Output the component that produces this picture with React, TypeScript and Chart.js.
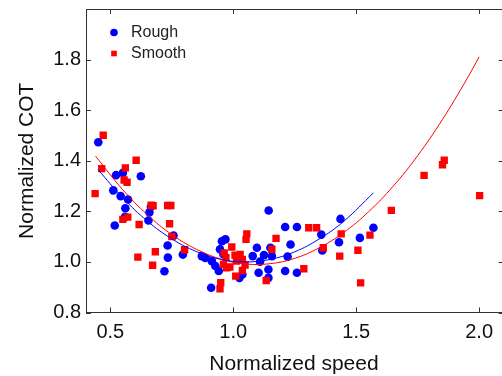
import React, { useEffect, useRef } from 'react';
import { Chart, registerables } from 'chart.js';
Chart.register(...registerables);

const roughX = [0.451, 0.523, 0.551, 0.624, 0.512, 0.542, 0.572, 0.561, 0.665, 0.659, 0.560, 0.518, 0.655, 0.757, 0.733, 0.734, 0.795, 0.720, 0.886, 0.913, 1.144, 1.211, 1.259, 1.233, 1.362, 1.358, 1.096, 1.151, 0.968, 0.954, 0.946, 1.079, 1.125, 1.157, 1.221, 1.109, 1.143, 1.103, 1.211, 1.259, 0.941, 1.025, 1.037, 1.143, 0.910, 0.927, 0.872, 0.960, 1.436, 1.430, 1.515, 1.570];
const roughY = [1.473, 1.343, 1.352, 1.339, 1.283, 1.260, 1.247, 1.212, 1.218, 1.196, 1.178, 1.144, 1.164, 1.104, 1.065, 1.017, 1.029, 0.963, 1.016, 1.003, 1.203, 1.138, 1.138, 1.069, 1.045, 1.108, 1.056, 1.056, 1.089, 1.082, 1.050, 1.023, 1.027, 1.023, 1.021, 1.001, 0.970, 0.957, 0.964, 0.957, 0.964, 0.937, 0.950, 0.937, 0.898, 0.984, 1.023, 1.030, 1.170, 1.078, 1.095, 1.135];

const smoothX = [0.471, 0.465, 0.438, 0.561, 0.605, 0.556, 0.568, 0.666, 0.674, 0.733, 0.746, 0.551, 0.571, 0.617, 0.741, 0.750, 0.802, 0.683, 0.612, 0.672, 1.055, 1.052, 1.174, 0.994, 1.307, 1.339, 1.366, 1.157, 0.963, 1.007, 1.028, 0.970, 1.037, 1.013, 0.986, 1.048, 0.960, 1.037, 0.973, 1.010, 1.134, 1.287, 0.949, 0.946, 1.439, 1.433, 1.507, 1.556, 1.518, 1.643, 1.776, 1.851, 1.858, 2.002];
const smoothY = [1.501, 1.369, 1.270, 1.372, 1.402, 1.324, 1.315, 1.224, 1.222, 1.223, 1.223, 1.168, 1.177, 1.148, 1.151, 1.100, 1.048, 1.040, 1.019, 0.987, 1.111, 1.089, 1.093, 1.059, 1.135, 1.135, 1.056, 1.050, 1.036, 1.027, 1.030, 1.017, 1.010, 1.003, 0.980, 0.988, 0.990, 0.966, 0.977, 0.944, 0.926, 0.973, 0.918, 0.894, 1.111, 1.023, 1.046, 1.106, 0.917, 1.204, 1.342, 1.384, 1.402, 1.262];

const roughFitX = [0.45, 0.55, 0.65, 0.75, 0.85, 0.95, 1.05, 1.15, 1.25, 1.35, 1.45, 1.57];
const roughFitY = [1.365, 1.254, 1.162, 1.091, 1.041, 1.010, 1.000, 1.010, 1.040, 1.091, 1.161, 1.273];

const smoothFitX = [0.44, 0.55, 0.65, 0.75, 0.85, 0.95, 1.05, 1.15, 1.25, 1.35, 1.45, 1.55, 1.65, 1.75, 1.85, 1.95, 2.0];
const smoothFitY = [1.418, 1.286, 1.187, 1.108, 1.050, 1.011, 0.992, 0.993, 1.014, 1.056, 1.117, 1.198, 1.299, 1.420, 1.562, 1.723, 1.811];

const xTicks = [0.5, 1.0, 1.5, 2.0];
const yTicks = [0.8, 1.0, 1.2, 1.4, 1.6, 1.8];
const seriesNames = ['Rough', 'Smooth'];
const xFrameMax = 2.1;

const FONT = "'Liberation Sans', Arial, Helvetica, sans-serif";
const AXIS = '#333333';

const zip = (xs: number[], ys: number[]) => xs.map((x, i) => ({ x, y: ys[i] }));

const zeroPad = (s: any) => {
  s.paddingLeft = 0;
  s.paddingRight = 0;
  s.paddingTop = 0;
  s.paddingBottom = 0;
};

const framePlugin = {
  id: 'frame',
  afterDraw(chart: any) {
    const { ctx, chartArea } = chart;
    const { left, top, bottom } = chartArea;
    const xs = chart.scales.x;
    const ys = chart.scales.y;
    const right = xs.getPixelForValue(xFrameMax);
    const L = 5;
    ctx.save();
    ctx.strokeStyle = AXIS;
    ctx.lineWidth = 1;
    ctx.beginPath();
    ctx.moveTo(left, top + 0.5);
    ctx.lineTo(right, top + 0.5);
    ctx.moveTo(right - 0.5, top);
    ctx.lineTo(right - 0.5, bottom);
    xTicks.forEach((v) => {
      const px = Math.round(xs.getPixelForValue(v)) + 0.5;
      ctx.moveTo(px, bottom);
      ctx.lineTo(px, bottom - L);
      ctx.moveTo(px, top);
      ctx.lineTo(px, top + L);
    });
    yTicks.forEach((v) => {
      const py = Math.round(ys.getPixelForValue(v)) + 0.5;
      ctx.moveTo(left, py);
      ctx.lineTo(left + L, py);
      ctx.moveTo(right, py);
      ctx.lineTo(right - L, py);
    });
    ctx.stroke();

    // legend
    const lx = left + 28;
    const ly1 = top + 23.5;
    const ly2 = top + 44.5;
    ctx.fillStyle = '#0000ff';
    ctx.beginPath();
    ctx.arc(lx, ly1, 3.8, 0, Math.PI * 2);
    ctx.fill();
    ctx.fillStyle = '#ff0000';
    ctx.fillRect(lx - 2.8, ly2 - 2.8, 5.6, 5.6);
    ctx.fillStyle = '#222222';
    ctx.font = `16px ${FONT}`;
    ctx.textBaseline = 'middle';
    ctx.textAlign = 'left';
    ctx.fillText(seriesNames[0], lx + 17, ly1 + 0.5);
    ctx.fillText(seriesNames[1], lx + 17, ly2 + 0.5);
    ctx.restore();
  },
};

export default function App() {
  const ref = useRef<HTMLCanvasElement | null>(null);
  useEffect(() => {
    document.body.style.margin = '0';
    document.body.style.overflow = 'hidden';
    const canvas = ref.current!;
    const chart = new Chart(canvas, {
      type: 'scatter',
      data: {
        datasets: [
          {
            type: 'line',
            label: 'Rough fit',
            data: zip(roughFitX, roughFitY),
            borderColor: '#0000ff',
            borderWidth: 1,
            pointRadius: 0,
            tension: 0.4,
            fill: false,
            order: 0,
          } as any,
          {
            type: 'line',
            label: 'Smooth fit',
            data: zip(smoothFitX, smoothFitY),
            borderColor: '#ff0000',
            borderWidth: 1,
            pointRadius: 0,
            tension: 0.4,
            fill: false,
            order: 0,
          } as any,
          {
            label: seriesNames[1],
            data: zip(smoothX, smoothY),
            pointStyle: 'rect',
            pointRadius: 5.2,
            backgroundColor: '#ff0000',
            borderColor: '#ff0000',
            borderWidth: 0,
            order: 1,
          },
          {
            label: seriesNames[0],
            data: zip(roughX, roughY),
            pointStyle: 'circle',
            pointRadius: 4.3,
            backgroundColor: '#0000ff',
            borderColor: '#0000ff',
            borderWidth: 0,
            order: 2,
          },
        ],
      },
      options: {
        animation: false,
        responsive: false,
        maintainAspectRatio: false,
        layout: { autoPadding: false, padding: { top: 9, right: 0, left: 0, bottom: 0 } },
        plugins: { legend: { display: false }, tooltip: { enabled: false } },
        scales: {
          x: {
            type: 'linear',
            min: 0.401,
            max: 2.093,
            afterBuildTicks: (s: any) => {
              s.ticks = xTicks.map((value) => ({ value }));
            },
            afterFit: (s: any) => {
              s.height = 63.5;
              zeroPad(s);
            },
            grid: { display: false, drawTicks: false },
            border: { display: true, color: AXIS, width: 1 },
            ticks: {
              padding: 8,
              color: '#111111',
              font: { family: FONT, size: 20 },
              callback: (v: any) => Number(v).toFixed(1),
            },
            title: {
              display: true,
              text: 'Normalized speed',
              color: '#111111',
              font: { family: FONT, size: 21 },
              padding: { top: 0, bottom: -1 },
            },
          },
          y: {
            type: 'linear',
            min: 0.8,
            max: 2.0,
            afterBuildTicks: (s: any) => {
              s.ticks = yTicks.map((value) => ({ value }));
            },
            afterFit: (s: any) => {
              s.width = 86;
              zeroPad(s);
            },
            grid: { display: false, drawTicks: false },
            border: { display: true, color: AXIS, width: 1 },
            ticks: {
              padding: 5,
              color: '#111111',
              font: { family: FONT, size: 20 },
              callback: (v: any) => Number(v).toFixed(1),
            },
            title: {
              display: true,
              text: 'Normalized COT',
              color: '#111111',
              font: { family: FONT, size: 21 },
              padding: { top: 15, bottom: 0 },
            },
          },
        },
      },
      plugins: [framePlugin],
    });
    return () => chart.destroy();
  }, []);
  return <canvas ref={ref} width={502} height={376} style={{ display: 'block', width: 502, height: 376 }} />;
}
